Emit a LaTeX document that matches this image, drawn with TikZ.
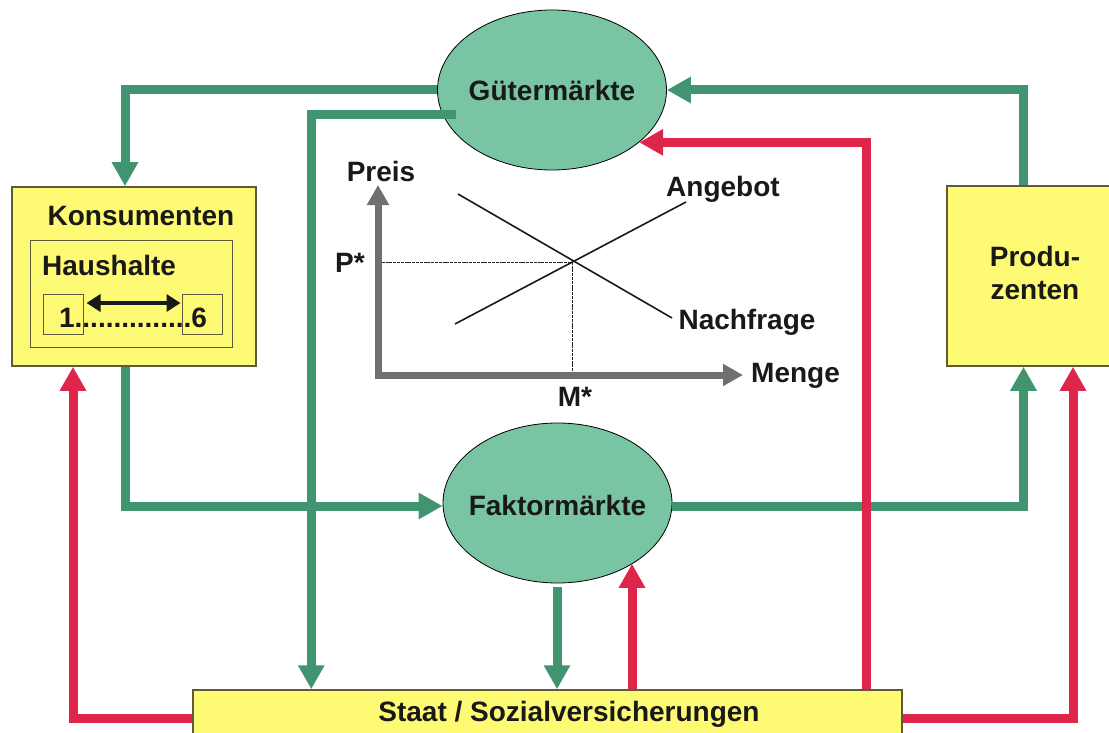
\documentclass[tikz,border=0pt]{standalone}
\usepackage{fontspec}
\setmainfont{Liberation Sans}
\usetikzlibrary{arrows.meta,shapes.geometric}
\definecolor{flowgreen}{RGB}{65,148,112}
\definecolor{flowred}{RGB}{221,38,74}
\definecolor{boxyellow}{RGB}{255,250,115}
\definecolor{mktgreen}{RGB}{121,197,163}
\definecolor{axisgray}{RGB}{112,112,112}
\definecolor{boxedge}{RGB}{95,90,55}
\begin{document}
\begin{tikzpicture}[x=1pt,y=-1pt,
  lbl/.style={font=\fontsize{28}{33}\selectfont\bfseries, inner sep=0pt, text=black!90},
  market/.style={ellipse, draw=black, line width=0.8pt, fill=mktgreen, minimum width=229pt, minimum height=160pt, inner sep=0pt},
  agent/.style={rectangle, draw=boxedge, line width=1.5pt, fill=boxyellow, inner sep=0pt},
  inbox/.style={rectangle, draw=boxedge, line width=1pt, fill=boxyellow, inner sep=0pt},
  gflow/.style={draw=flowgreen, line width=9pt, -{Triangle[width=25pt,length=24pt]}},
  rflow/.style={draw=flowred, line width=9pt, -{Triangle[width=25pt,length=24pt]}},
  axis/.style={draw=axisgray, line width=7pt, {Triangle[width=21pt,length=20pt]}-{Triangle[width=21pt,length=20pt]}},
  curve/.style={draw=black!90, line width=1.6pt},
  guide/.style={draw=black!85, line width=0.9pt, dash pattern=on 3pt off 0.8pt},
]
\clip (0,0) rectangle (1109,733);
\useasboundingbox (0,0) rectangle (1109,733);

% nodes
\node[market] (gm) at (552,90) {};
\node[lbl] (gmlbl) at (552,90) {Gütermärkte};
\node[market] (fm) at (557.5,503) {};
\node[lbl] (fmlbl) at (557.5,505) {Faktormärkte};
\node[agent, minimum width=244pt, minimum height=179pt] (kons) at (134,276.5) {};
\node[lbl] (konslbl) at (141,216) {Konsumenten};
\node[inbox, minimum width=202pt, minimum height=107pt] (haus) at (131,293.5) {};
\node[lbl, anchor=west] (hauslbl) at (42,265) {Haushalte};
\node[inbox, minimum width=40pt, minimum height=40pt] (b1) at (63,314) {};
\node[inbox, minimum width=40pt, minimum height=40pt] (b6) at (202,314) {};
\node[lbl] (range) at (133,318) {1...............6};
\node[agent, minimum width=163pt, minimum height=180pt] (prod) at (1028.5,276) {};
\node[lbl, align=center, font=\fontsize{28}{33}\selectfont\bfseries] (prodlbl) at (1035,273) {Produ-\\zenten};
\node[agent, minimum width=709pt, minimum height=50pt] (staat) at (547.5,715) {};
\node[lbl] (staatlbl) at (569,714) {Staat / Sozialversicherungen};

% household range arrow
\draw[line width=4pt, black!90, {Triangle[width=17pt,length=14pt]}-{Triangle[width=17pt,length=14pt]}]
  ([xshift=3pt,yshift=11pt]b1.east) -- ([xshift=-1pt,yshift=11pt]b6.west);

% price chart
\coordinate (orig) at (378,375);
\coordinate (ytip) at (378,185);
\coordinate (xtip) at (743,375);
\coordinate (eq) at (572,262);
\draw[guide] (orig |- eq) -- (eq) -- (eq |- orig);
\draw[axis] (ytip) -- (orig) -- (xtip);
\coordinate (sA) at (455,324);
\coordinate (sB) at (686,202);
\coordinate (dA) at (458,194);
\coordinate (dB) at (672,318);
\draw[curve] (sA) -- (sB);
\draw[curve] (dA) -- (dB);
\node[lbl] (preis) at (381,171) {Preis};
\node[lbl] (pstar) at (350,263) {P*};
\node[lbl] (mstar) at (575,397) {M*};
\node[lbl, anchor=west] (menge) at (751,376) {Menge};
\node[lbl] (angebot) at (723,189) {Angebot};
\node[lbl] (nachfrage) at (747,322) {Nachfrage};

% green flows
\coordinate (gmout) at (456,115);
\coordinate (fmout) at (557,587);
\draw[gflow] (gm.west) -| ([xshift=-9pt]kons.north);
\draw[gflow] (gmout) -| ([xshift=119pt]staat.north west);
\draw[gflow] ([xshift=-9pt]kons.south) |- ([yshift=-3pt]fm.west);
\draw[gflow] ([yshift=-3pt]fm.east) -| ([xshift=-5pt]prod.south);
\draw[gflow] ([xshift=-5pt]prod.north) |- (gm.east);
\draw[gflow] (fmout) -- (fmout |- staat.north);

% red flows
\coordinate (rs2) at ([xshift=84.5pt]staat.north);
\coordinate (rs3) at ([xshift=318.5pt]staat.north);
\draw[rflow] ([yshift=-3pt]staat.west) -| ([xshift=-61pt]kons.south);
\draw[rflow] (rs2) -- (rs2 |- fm.-39.2);
\draw[rflow] (rs3) |- (gm.-31);
\draw[rflow] ([yshift=-3pt]staat.east) -| ([xshift=44.5pt]prod.south);
\end{tikzpicture}
\end{document}
